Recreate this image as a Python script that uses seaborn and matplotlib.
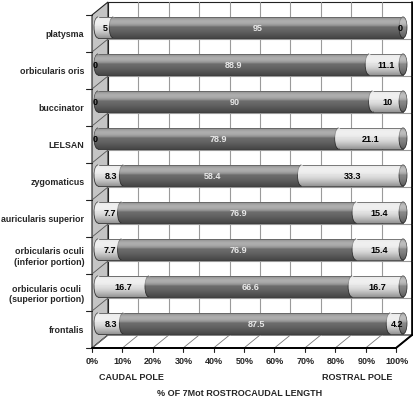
import numpy as np
import pandas as pd
import seaborn as sns
import matplotlib.pyplot as plt
from matplotlib.patches import Ellipse, Arc, Polygon, Rectangle, PathPatch
from matplotlib.path import Path
from matplotlib.transforms import ScaledTranslation

# data
muscles = ["platysma", "orbicularis oris", "buccinator", "LELSAN", "zygomaticus",
           "auricularis superior", "orbicularis oculi\n(inferior portion)",
           "orbicularis oculi\n(superior portion)", "frontalis"]
caudal = [5, 0, 0, 0, 8.3, 7.7, 7.7, 16.7, 8.3]
middle = [95, 88.9, 90, 78.9, 58.4, 76.9, 76.9, 66.6, 87.5]
rostral = [0, 11.1, 10, 21.1, 33.3, 15.4, 15.4, 16.7, 4.2]
tick_vals = list(range(0, 101, 10))

df = pd.DataFrame({"muscle": muscles, "caudal": caudal, "middle": middle, "rostral": rostral})
df["cum_mid"] = df["caudal"] + df["middle"]
df["total"] = df["cum_mid"] + df["rostral"]

LIGHT = "#e3e3e3"
DARK = "#6c6c6c"
CAP = "#8a8a8a"
EDGE = "#3a3a3a"
FONT = ["Liberation Sans", "DejaVu Sans"]

sns.set_style("white")
plt.rcParams["font.family"] = FONT
plt.rcParams["font.weight"] = "bold"

W, H = 414, 401
fig = plt.figure(figsize=(W / 100, H / 100), dpi=100)

# background "3D box" drawn in pixel coordinates
bg = fig.add_axes([0, 0, 1, 1])
bg.set_xlim(0, W)
bg.set_ylim(H, 0)
bg.axis("off")
dx, dy = 16, 13
x0, x1 = 92, 396
ytop, ybot = 2, 335
step = (x1 - x0) / 10
bg.add_patch(Rectangle((x0 + dx, ytop), x1 - x0, ybot - ytop, fc="white", ec="#222", lw=0.8))
bg.add_patch(Polygon([(x0, ytop + dy), (x0 + dx, ytop), (x0 + dx, ybot), (x0, ybot + dy)],
                     closed=True, fc="#c4c4c4", ec="#222", lw=0.8))
bg.add_patch(Polygon([(x0, ybot + dy), (x0 + dx, ybot), (x1 + dx, ybot), (x1, ybot + dy)],
                     closed=True, fc="white", ec="#222", lw=0.8))
for i in range(1, 10):
    xx = x0 + dx + i * step
    bg.plot([xx, xx], [ytop, ybot], color="#9a9a9a", lw=0.8)
for k in range(1, 9):
    yy = ytop + 37 * k
    bg.plot([x0 + dx, x1 + dx], [yy, yy], color="#9a9a9a", lw=0.8)
    bg.plot([x0, x0 + dx], [yy + dy, yy], color="#555", lw=0.6)
for k in range(0, 10):
    yy = ytop + dy + 37 * k
    bg.plot([x0 - 6, x0], [yy, yy], color="#222", lw=0.8)
for i in range(0, 11):
    xx = x0 + i * step
    bg.plot([xx, xx + dx], [ybot + dy, ybot], color="#777", lw=0.6)
    bg.plot([xx, xx], [ybot + dy, ybot + dy + 4], color="#222", lw=0.8)
bg.plot([x0, x1], [ybot + dy, ybot + dy], color="black", lw=1.4)
bg.plot([x1, x1 + dx], [ybot + dy, ybot], color="black", lw=1.4)
bg.plot([x1 + dx, x1 + dx], [ybot, ytop], color="black", lw=1.2)

# main axes: bar plane, 0% at x=98px, 100% at x=403px
scale = 3.05
xl, xr = -2, 102
left_px = 98 + xl * scale
top_px, bot_px = 27.5 - 18.5, 27.5 + 8 * 37 + 18.5
ax = fig.add_axes([left_px / W, (H - bot_px) / H, (xr - xl) * scale / W, (bot_px - top_px) / H])
ax.patch.set_visible(False)

bw = 0.57
kw = dict(data=df, y="muscle", orient="h", width=bw, edgecolor=EDGE, linewidth=0.6, ax=ax, zorder=2)
sns.barplot(x="total", color=LIGHT, **kw)
sns.barplot(x="cum_mid", color=DARK, **kw)
sns.barplot(x="caudal", color=LIGHT, **kw)

a = 1.3
for k, row in df.iterrows():
    segs = [(0, row.caudal, LIGHT), (row.caudal, row.middle, DARK), (row.cum_mid, row.rostral, LIGHT)]
    z = 3
    for start, val, col in segs:
        if val <= 0:
            continue
        ax.add_patch(Ellipse((start, k), 2 * a, bw, fc=col, ec="none", zorder=z))
        ax.add_patch(Arc((start, k), 2 * a, bw, theta1=90, theta2=270, ec=EDGE, lw=0.6, zorder=z))
        z += 0.1
    ax.add_patch(Ellipse((row.total, k), 2 * a, bw, fc=CAP, ec=EDGE, lw=0.6, zorder=4))

    # cylinder shading
    th = np.linspace(-np.pi / 2, np.pi / 2, 30)
    lx = 0 - a * np.cos(th)
    ly = k + bw / 2 * np.sin(th)
    rx = row.total + a * np.cos(th[::-1])
    ry = k + bw / 2 * np.sin(th[::-1])
    verts = np.column_stack([np.concatenate([lx, rx]), np.concatenate([ly, ry])])
    clip = PathPatch(Path(np.vstack([verts, verts[:1]]), closed=True), transform=ax.transData,
                     fc="none", ec="none")
    ax.add_patch(clip)
    t = np.linspace(0, 1, 60)
    grad = np.zeros((60, 1, 4))
    white = t < 0.5
    grad[white, 0, :3] = 1.0
    grad[white, 0, 3] = 0.45 * np.sin(np.pi * t[white] / 0.5) ** 0.7
    grad[~white, 0, 3] = 0.35 * ((t[~white] - 0.5) / 0.5) ** 1.3
    im = ax.imshow(grad, extent=(-a, row.total + a, k + bw / 2, k - bw / 2), aspect="auto",
                   interpolation="bilinear", zorder=5)
    im.set_clip_path(clip)

    # value labels
    for start, val, col in [(0, row.caudal, LIGHT), (row.caudal, row.middle, DARK),
                            (row.cum_mid, row.rostral, LIGHT)]:
        if val > 0:
            xpos = start + val / 2
        else:
            xpos = -1 if start == 0 else 99
        tc = "#e8e8e8" if col == DARK and val > 0 else "black"
        ax.text(xpos, k + 0.04, f"{val:g}", ha="center", va="center", fontsize=6.5,
                fontweight="bold", color=tc, zorder=10)

ax.set_xlim(xl, xr)
ax.set_ylim(8.5, -0.5)
ax.set_xlabel("")
ax.set_ylabel("")
sns.despine(ax=ax, left=True, bottom=True)

ax.set_xticks(tick_vals)
ax.set_xticklabels([f"{v}%" for v in tick_vals], fontsize=6.5, fontweight="bold")
ax.tick_params(axis="x", length=0, pad=11)
for lab in ax.get_xticklabels():
    lab.set_transform(lab.get_transform() + ScaledTranslation(-0.06, 0, fig.dpi_scale_trans))
ax.tick_params(axis="y", length=0, pad=5.5)
for lab in ax.get_yticklabels():
    lab.set_fontsize(6.4)
    lab.set_fontweight("bold")
    lab.set_multialignment("center")
    lab.set_transform(lab.get_transform() + ScaledTranslation(0, -0.06, fig.dpi_scale_trans))

bg.text(131, 377, "CAUDAL POLE", ha="center", va="center", fontsize=6.5, fontweight="bold")
bg.text(357, 377, "ROSTRAL POLE", ha="center", va="center", fontsize=6.5, fontweight="bold")
bg.text(240, 394, "% OF 7Mot ROSTROCAUDAL LENGTH", ha="center", va="center", fontsize=6.5,
        fontweight="bold")

fig.savefig("out.png", dpi=100)
